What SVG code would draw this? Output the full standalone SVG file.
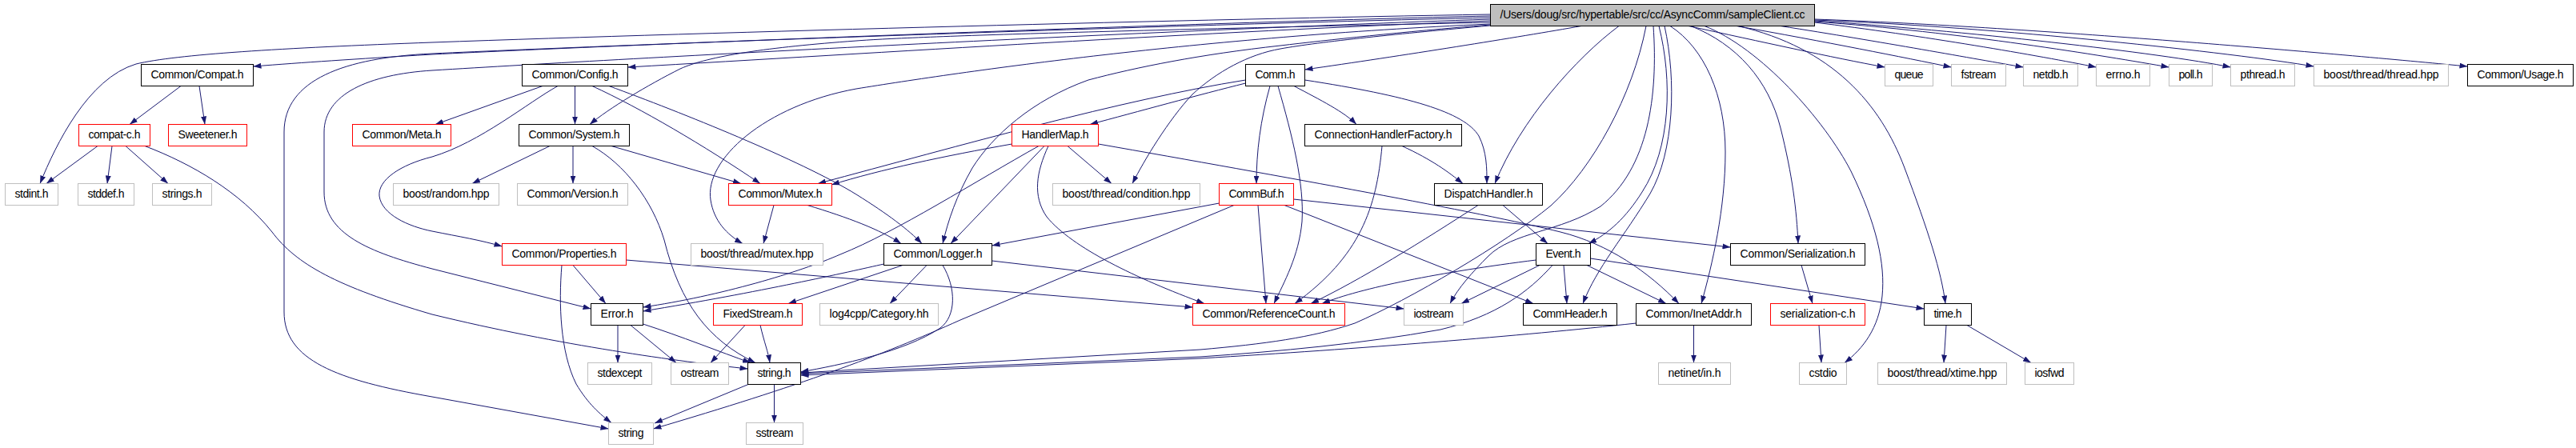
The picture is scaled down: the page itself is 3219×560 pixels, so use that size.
<svg xmlns="http://www.w3.org/2000/svg" width="3219" height="560" viewBox="0 0 3219 560">
<style>
.e path{fill:none;stroke:#191970;stroke-width:1;marker-end:url(#a)}
.nd rect{fill:#fff;stroke-width:1}
.k rect{stroke:#000}
.r rect{stroke:#f00}
.g rect{stroke:#bfbfbf}
.rt rect{fill:#bfbfbf;stroke:#000}
.nd text{font-family:"Liberation Sans",Arial,Helvetica,sans-serif;font-size:14px;text-anchor:middle;fill:#000}
</style>
<defs>
<marker id="a" viewBox="0 0 10 7" refX="10" refY="3.5" markerWidth="10" markerHeight="7" markerUnits="userSpaceOnUse" orient="auto"><path d="M0,0L10,3.5L0,7z" fill="#191970"/></marker>
</defs>
<rect x="0" y="0" width="3219" height="560" fill="#fff"/>
<g id="edges" class="e">
<path d="M1862,18 C1500,24 900,40 540,53 C350,60 220,68 170,80 C110,98 70,180 50,229.5"/>
<path d="M1862,20 C1500,28 800,55 540,68 C440,74 380,78 316.5,83"/>
<path d="M1862,22 C1400,33 800,55 540,67 C430,72 355,100 355,165 L355,390 C355,450 420,475 540,496 L760.5,536"/>
<path d="M1862,24 C1400,40 800,72 540,88 C460,93 405,118 405,165 L405,240 C405,292 460,315 540,336 L738.5,386"/>
<path d="M1862,26 C1500,40 1100,66 784.5,84"/>
<path d="M1862,28 C1400,38 1150,45 1070,51 C960,59 885,70 850,86 C810,106 760,136 737,155.5"/>
<path d="M1862,30 C1500,46 1200,90 1070,111 C955,132 880,200 888,250 C892,276 908,293 928,304.5"/>
<path d="M1862,31 C1750,40 1660,50 1600,57 C1500,68 1420,84 1360,100 C1290,125 1240,170 1215,210 C1195,245 1185,275 1178,304.5"/>
<path d="M1862,32 C1750,42 1650,52 1600,61 C1560,68 1520,90 1490,118 C1460,150 1430,200 1415,229.5"/>
<path d="M1976,32.5 C1900,46 1750,70 1630.5,87"/>
<path d="M2023,32.5 C1970,72 1900,150 1868,229.5"/>
<path d="M2057,32.5 C2040,120 1990,210 1938,257 C1880,305 1760,375 1693,404 C1640,422 1580,430 1500,437 L1000.5,466"/>
<path d="M2066,32.5 C2072,120 2060,210 2000,258 C1950,290 1890,290 1860,320 C1840,340 1822,360 1812,379.5"/>
<path d="M2073,32.5 C2090,100 2088,185 2052,240 C2032,272 2010,292 1985,304.5"/>
<path d="M2080,32.5 C2095,100 2092,190 2062,242 C2030,295 1995,335 1978,379.5"/>
<path d="M2087,32.5 C2130,60 2156,120 2156,190 C2156,260 2140,330 2126,379.5"/>
<path d="M2113,32.5 C2170,55 2210,100 2225,160 C2240,220 2245,262 2247,304.5"/>
<path d="M2130,32.5 C2200,60 2280,150 2313,214 C2345,280 2356,330 2352,370 C2348,410 2328,436 2305,453.5"/>
<path d="M2172,32.5 C2290,60 2350,130 2380,210 C2410,290 2426,340 2431,379.5"/>
<path d="M2110,32.5 C2200,52 2290,72 2355.5,84"/>
<path d="M2170,32.5 C2280,52 2380,72 2438.5,84"/>
<path d="M2225,32.5 C2350,52 2470,74 2528.5,84"/>
<path d="M2267.5,28 C2400,44 2550,70 2619.5,84"/>
<path d="M2267.5,27 C2450,40 2630,70 2710.5,84"/>
<path d="M2267.5,26 C2450,38 2700,66 2787.5,84"/>
<path d="M2267.5,25 C2500,34 2790,66 2891.5,83"/>
<path d="M2267.5,24 C2550,34 2950,70 3083.5,83"/>
<path d="M697,107.5 C660,128 600,178 540,196 C500,206 472,225 474,245 C477,268 510,283 540,289 C575,296 600,300 627.5,308"/>
<path d="M181,182.5 C240,205 300,240 340,290 C370,330 420,358 540,393 C700,432 850,452 934.5,461"/>
<path d="M226,107.5 L162,155.5"/>
<path d="M249,107.5 L256,155.5"/>
<path d="M122,182.5 L58,229.5"/>
<path d="M140,182.5 L134,229.5"/>
<path d="M157,182.5 L210,229.5"/>
<path d="M678,107.5 L544,155.5"/>
<path d="M718.5,107.5 L718.5,155.5"/>
<path d="M740,107.5 C800,135 880,182 950,229.5"/>
<path d="M761,107.5 C850,140 1000,200 1070,243 C1110,268 1135,287 1152,304.5"/>
<path d="M687,182.5 L590,229.5"/>
<path d="M716,182.5 L716,229.5"/>
<path d="M764,182.5 L926,229.5"/>
<path d="M740,182.5 C780,205 815,250 830,300 C850,380 885,425 944,453.5"/>
<path d="M967,256.5 L954,304.5"/>
<path d="M1009,256.5 C1060,272 1100,287 1126,304.5"/>
<path d="M716,331.5 L757,379.5"/>
<path d="M702,331.5 C698,380 700,440 720,480 C735,505 750,518 764,528.5"/>
<path d="M782.5,325 L1490.5,384"/>
<path d="M772,406.5 L772,453.5"/>
<path d="M788,406.5 L845,453.5"/>
<path d="M803.5,405 C850,420 900,440 938,453.5"/>
<path d="M931,406.5 L888,453.5"/>
<path d="M950,406.5 C955,428 960,440 962,453.5"/>
<path d="M935,480.5 L818,529"/>
<path d="M967.5,480.5 L967.5,528.5"/>
<path d="M1298,182.5 C1220,226 1120,290 1050,318 C1000,340 900,370 803.5,384"/>
<path d="M1104.5,330 C1060,340 950,365 803.5,389"/>
<path d="M1128,331.5 L985,379.5"/>
<path d="M1542,256.5 L1200,400 C1100,445 1000,482 816.5,536"/>
<path d="M1178,331.5 C1195,360 1195,395 1175,410 C1130,440 1050,456 1000.5,465"/>
<path d="M1940,331.5 C1910,365 1870,395 1800,412 C1700,430 1600,439 1500,446 L1000.5,467"/>
<path d="M2044.5,404 C1900,420 1700,436 1500,448 L1000.5,469"/>
<path d="M1556.5,100 C1400,125 1200,182 1022,229.5"/>
<path d="M1264.5,180 C1180,195 1100,212 1039,231"/>
<path d="M1556.5,104 C1500,118 1420,140 1362,155.5"/>
<path d="M1305,182.5 L1188,304.5"/>
<path d="M1334,182.5 L1389,229.5"/>
<path d="M1310,182.5 C1295,215 1290,245 1308,271 C1340,310 1420,348 1505,379.5"/>
<path d="M1372.5,180 C1600,220 1850,265 1950,290 C2010,305 2060,340 2098,379.5"/>
<path d="M1587,107.5 C1575,150 1570,190 1570,229.5"/>
<path d="M1597,107.5 C1615,170 1630,230 1627,277 C1623,320 1605,352 1592,379.5"/>
<path d="M1572,256.5 L1582,379.5"/>
<path d="M1727,182.5 C1720,260 1700,320 1618,379.5"/>
<path d="M1847,256.5 C1780,300 1700,350 1638,379.5"/>
<path d="M1919.5,325 C1800,340 1700,360 1652,379.5"/>
<path d="M1523.5,254 L1239.5,307"/>
<path d="M1158,331.5 L1112,379.5"/>
<path d="M1239.5,326 L1754.5,386"/>
<path d="M1605,256.5 L1916,379.5"/>
<path d="M1616.5,249 L2162.5,309"/>
<path d="M1617,107.5 C1650,125 1680,140 1695,155.5"/>
<path d="M1630.5,100 C1760,120 1830,140 1848,170 C1858,190 1858,210 1858,229.5"/>
<path d="M1752,182.5 C1790,200 1810,215 1828,229.5"/>
<path d="M1878,256.5 L1934,304.5"/>
<path d="M1924,331.5 L1826,379.5"/>
<path d="M1954,331.5 L1958,379.5"/>
<path d="M1983,331.5 L2082,379.5"/>
<path d="M2116.5,406.5 L2116.5,453.5"/>
<path d="M1987.5,323 L2404.5,386"/>
<path d="M2251,331.5 L2265,379.5"/>
<path d="M2273,406.5 L2276,453.5"/>
<path d="M2432,406.5 L2429,453.5"/>
<path d="M2458,406.5 L2538,453.5"/>
</g>
<g id="n_root" class="nd rt"><rect x="1862.5" y="5.5" width="405" height="27"/><text x="2065" y="23" textLength="381">/Users/doug/src/hypertable/src/cc/AsyncComm/sampleClient.cc</text></g>
<g id="n_compat" class="nd k"><rect x="176.5" y="80.5" width="140" height="27"/><text x="246.5" y="98" textLength="116">Common/Compat.h</text></g>
<g id="n_config" class="nd k"><rect x="652.5" y="80.5" width="132" height="27"/><text x="718.5" y="98" textLength="108">Common/Config.h</text></g>
<g id="n_comm" class="nd k"><rect x="1556.5" y="80.5" width="74" height="27"/><text x="1593.5" y="98" textLength="50">Comm.h</text></g>
<g id="n_queue" class="nd g"><rect x="2355.5" y="80.5" width="60" height="27"/><text x="2385.5" y="98" textLength="36">queue</text></g>
<g id="n_fstream" class="nd g"><rect x="2438.5" y="80.5" width="68" height="27"/><text x="2472.5" y="98" textLength="44">fstream</text></g>
<g id="n_netdb" class="nd g"><rect x="2528.5" y="80.5" width="68" height="27"/><text x="2562.5" y="98" textLength="44">netdb.h</text></g>
<g id="n_errno" class="nd g"><rect x="2619.5" y="80.5" width="67" height="27"/><text x="2653" y="98" textLength="43">errno.h</text></g>
<g id="n_poll" class="nd g"><rect x="2710.5" y="80.5" width="54" height="27"/><text x="2737.5" y="98" textLength="30">poll.h</text></g>
<g id="n_pthread" class="nd g"><rect x="2787.5" y="80.5" width="80" height="27"/><text x="2827.5" y="98" textLength="56">pthread.h</text></g>
<g id="n_thread" class="nd g"><rect x="2891.5" y="80.5" width="168" height="27"/><text x="2975.5" y="98" textLength="144">boost/thread/thread.hpp</text></g>
<g id="n_usage" class="nd k"><rect x="3083.5" y="80.5" width="132" height="27"/><text x="3149.5" y="98" textLength="108">Common/Usage.h</text></g>
<g id="n_compatc" class="nd r"><rect x="98.5" y="155.5" width="89" height="27"/><text x="143" y="173" textLength="65">compat-c.h</text></g>
<g id="n_sweet" class="nd r"><rect x="210.5" y="155.5" width="98" height="27"/><text x="259.5" y="173" textLength="74">Sweetener.h</text></g>
<g id="n_meta" class="nd r"><rect x="440.5" y="155.5" width="123" height="27"/><text x="502" y="173" textLength="99">Common/Meta.h</text></g>
<g id="n_system" class="nd k"><rect x="648.5" y="155.5" width="138" height="27"/><text x="717.5" y="173" textLength="114">Common/System.h</text></g>
<g id="n_handler" class="nd r"><rect x="1264.5" y="155.5" width="108" height="27"/><text x="1318.5" y="173" textLength="84">HandlerMap.h</text></g>
<g id="n_chf" class="nd k"><rect x="1630.5" y="155.5" width="196" height="27"/><text x="1728.5" y="173" textLength="172">ConnectionHandlerFactory.h</text></g>
<g id="n_stdint" class="nd g"><rect x="6.5" y="229.5" width="66" height="27"/><text x="39.5" y="247" textLength="42">stdint.h</text></g>
<g id="n_stddef" class="nd g"><rect x="97.5" y="229.5" width="70" height="27"/><text x="132.5" y="247" textLength="46">stddef.h</text></g>
<g id="n_strings" class="nd g"><rect x="190.5" y="229.5" width="74" height="27"/><text x="227.5" y="247" textLength="50">strings.h</text></g>
<g id="n_random" class="nd g"><rect x="491.5" y="229.5" width="132" height="27"/><text x="557.5" y="247" textLength="108">boost/random.hpp</text></g>
<g id="n_version" class="nd g"><rect x="646.5" y="229.5" width="138" height="27"/><text x="715.5" y="247" textLength="114">Common/Version.h</text></g>
<g id="n_mutex" class="nd r"><rect x="910.5" y="229.5" width="129" height="27"/><text x="975" y="247" textLength="105">Common/Mutex.h</text></g>
<g id="n_cond" class="nd g"><rect x="1315.5" y="229.5" width="184" height="27"/><text x="1407.5" y="247" textLength="160">boost/thread/condition.hpp</text></g>
<g id="n_commbuf" class="nd r"><rect x="1523.5" y="229.5" width="93" height="27"/><text x="1570" y="247" textLength="69">CommBuf.h</text></g>
<g id="n_dispatch" class="nd k"><rect x="1792.5" y="229.5" width="135" height="27"/><text x="1860" y="247" textLength="111">DispatchHandler.h</text></g>
<g id="n_props" class="nd r"><rect x="627.5" y="304.5" width="155" height="27"/><text x="705" y="322" textLength="131">Common/Properties.h</text></g>
<g id="n_mutexhpp" class="nd g"><rect x="863.5" y="304.5" width="165" height="27"/><text x="946" y="322" textLength="141">boost/thread/mutex.hpp</text></g>
<g id="n_logger" class="nd k"><rect x="1104.5" y="304.5" width="135" height="27"/><text x="1172" y="322" textLength="111">Common/Logger.h</text></g>
<g id="n_event" class="nd k"><rect x="1919.5" y="304.5" width="68" height="27"/><text x="1953.5" y="322" textLength="44">Event.h</text></g>
<g id="n_serial" class="nd k"><rect x="2162.5" y="304.5" width="168" height="27"/><text x="2246.5" y="322" textLength="144">Common/Serialization.h</text></g>
<g id="n_error" class="nd k"><rect x="738.5" y="379.5" width="65" height="27"/><text x="771" y="397" textLength="41">Error.h</text></g>
<g id="n_fixed" class="nd r"><rect x="891.5" y="379.5" width="111" height="27"/><text x="947" y="397" textLength="87">FixedStream.h</text></g>
<g id="n_category" class="nd g"><rect x="1024.5" y="379.5" width="148" height="27"/><text x="1098.5" y="397" textLength="124">log4cpp/Category.hh</text></g>
<g id="n_refcount" class="nd r"><rect x="1490.5" y="379.5" width="190" height="27"/><text x="1585.5" y="397" textLength="166">Common/ReferenceCount.h</text></g>
<g id="n_iostream" class="nd g"><rect x="1754.5" y="379.5" width="74" height="27"/><text x="1791.5" y="397" textLength="50">iostream</text></g>
<g id="n_commheader" class="nd k"><rect x="1903.5" y="379.5" width="117" height="27"/><text x="1962" y="397" textLength="93">CommHeader.h</text></g>
<g id="n_inetaddr" class="nd k"><rect x="2044.5" y="379.5" width="144" height="27"/><text x="2116.5" y="397" textLength="120">Common/InetAddr.h</text></g>
<g id="n_serialc" class="nd r"><rect x="2212.5" y="379.5" width="118" height="27"/><text x="2271.5" y="397" textLength="94">serialization-c.h</text></g>
<g id="n_time" class="nd k"><rect x="2404.5" y="379.5" width="59" height="27"/><text x="2434" y="397" textLength="35">time.h</text></g>
<g id="n_stdexcept" class="nd g"><rect x="734.5" y="453.5" width="80" height="27"/><text x="774.5" y="471" textLength="56">stdexcept</text></g>
<g id="n_ostream" class="nd g"><rect x="838.5" y="453.5" width="72" height="27"/><text x="874.5" y="471" textLength="48">ostream</text></g>
<g id="n_stringh" class="nd k"><rect x="934.5" y="453.5" width="66" height="27"/><text x="967.5" y="471" textLength="42">string.h</text></g>
<g id="n_netinet" class="nd g"><rect x="2072.5" y="453.5" width="90" height="27"/><text x="2117.5" y="471" textLength="66">netinet/in.h</text></g>
<g id="n_cstdio" class="nd g"><rect x="2248.5" y="453.5" width="59" height="27"/><text x="2278" y="471" textLength="35">cstdio</text></g>
<g id="n_xtime" class="nd g"><rect x="2346.5" y="453.5" width="161" height="27"/><text x="2427" y="471" textLength="137">boost/thread/xtime.hpp</text></g>
<g id="n_iosfwd" class="nd g"><rect x="2530.5" y="453.5" width="61" height="27"/><text x="2561" y="471" textLength="37">iosfwd</text></g>
<g id="n_string" class="nd g"><rect x="760.5" y="528.5" width="56" height="27"/><text x="788.5" y="546" textLength="32">string</text></g>
<g id="n_sstream" class="nd g"><rect x="932.5" y="528.5" width="71" height="27"/><text x="968" y="546" textLength="47">sstream</text></g>
</svg>
